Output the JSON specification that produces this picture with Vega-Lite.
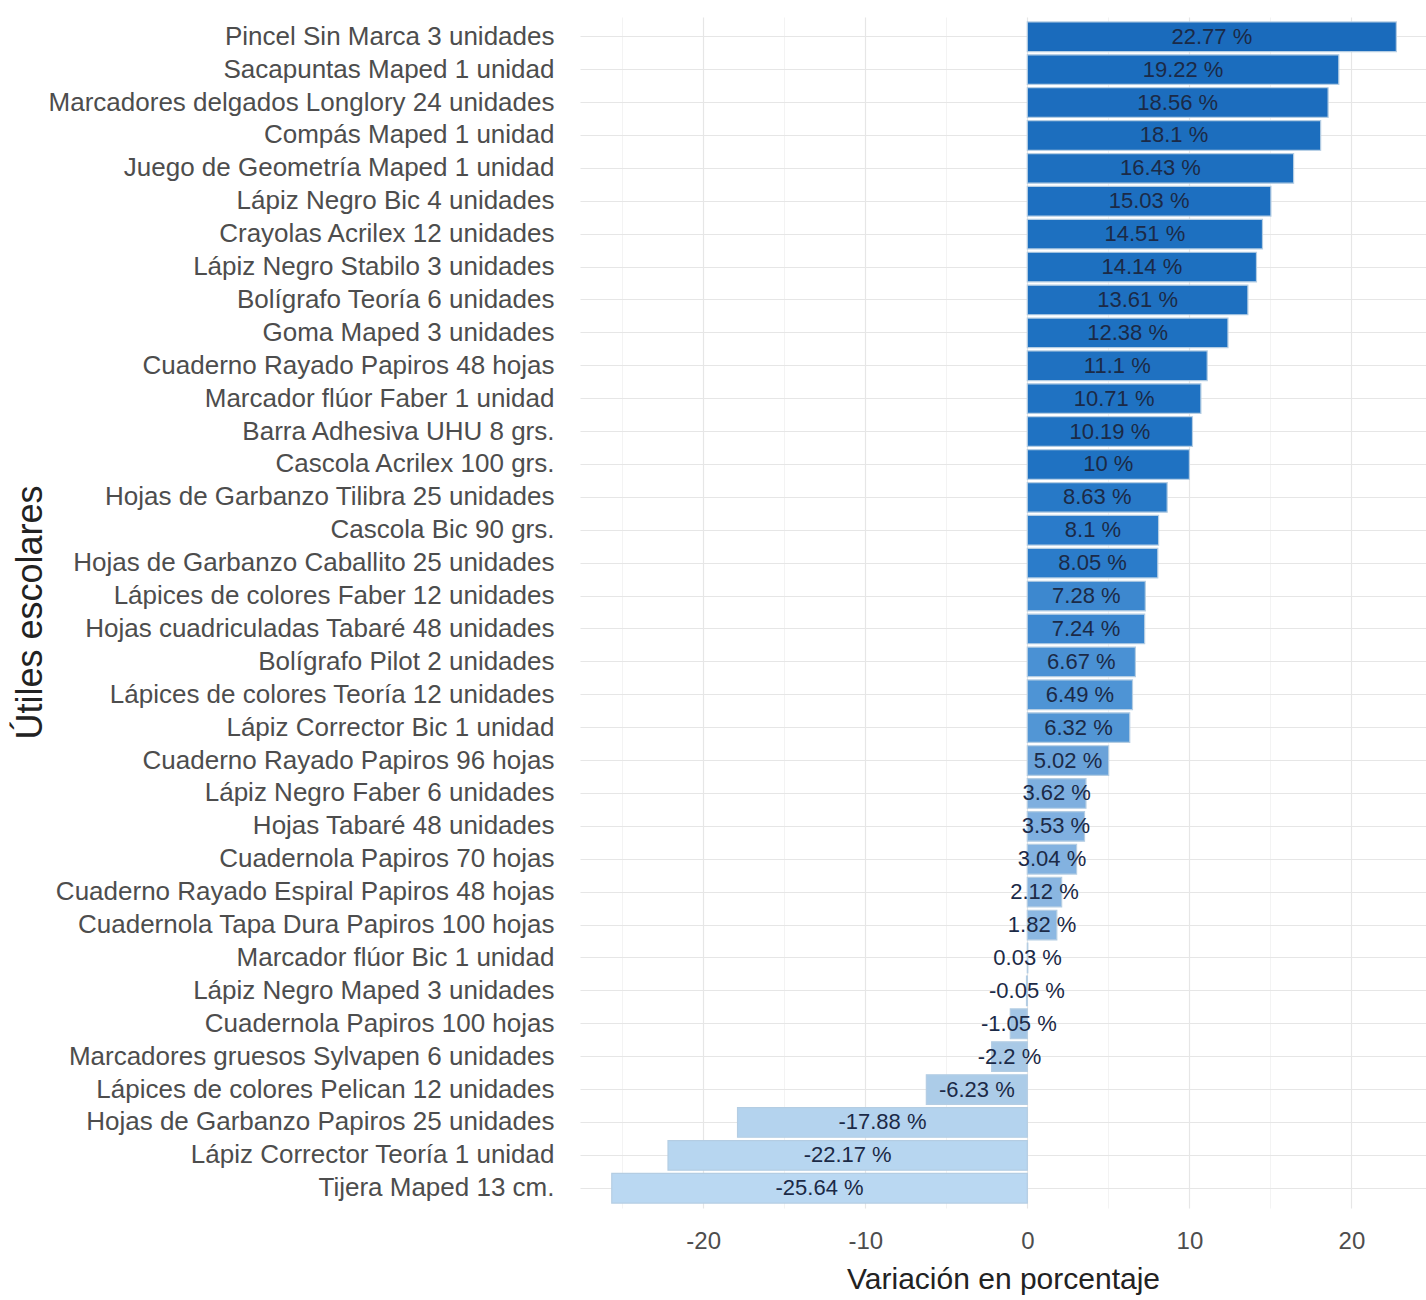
{
  "$schema": "https://vega.github.io/schema/vega-lite/v6.json",
  "autosize": {"type": "none"},
  "width": 846,
  "height": 1191,
  "padding": {"left": 580, "top": 17, "right": 0, "bottom": 92},
  "background": "white",
  "config": {"view": {"stroke": null}, "font": "Liberation Sans"},
  "data": {
    "values": [
      {"item": "Pincel Sin Marca 3 unidades", "v": 22.77},
      {"item": "Sacapuntas Maped 1 unidad", "v": 19.22},
      {"item": "Marcadores delgados Longlory 24 unidades", "v": 18.56},
      {"item": "Compás  Maped 1 unidad", "v": 18.1},
      {"item": "Juego de Geometría Maped 1 unidad", "v": 16.43},
      {"item": "Lápiz Negro Bic 4 unidades", "v": 15.03},
      {"item": "Crayolas Acrilex 12 unidades", "v": 14.51},
      {"item": "Lápiz Negro Stabilo 3 unidades", "v": 14.14},
      {"item": "Bolígrafo Teoría 6 unidades", "v": 13.61},
      {"item": "Goma Maped 3 unidades", "v": 12.38},
      {"item": "Cuaderno Rayado Papiros 48 hojas", "v": 11.1},
      {"item": "Marcador flúor Faber 1 unidad", "v": 10.71},
      {"item": "Barra Adhesiva UHU 8 grs.", "v": 10.19},
      {"item": "Cascola Acrilex 100 grs.", "v": 10},
      {"item": "Hojas de Garbanzo Tilibra 25 unidades", "v": 8.63},
      {"item": "Cascola Bic 90 grs.", "v": 8.1},
      {"item": "Hojas de Garbanzo Caballito 25 unidades", "v": 8.05},
      {"item": "Lápices de colores Faber 12 unidades", "v": 7.28},
      {"item": "Hojas cuadriculadas Tabaré 48 unidades", "v": 7.24},
      {"item": "Bolígrafo Pilot 2 unidades", "v": 6.67},
      {"item": "Lápices de colores Teoría 12 unidades", "v": 6.49},
      {"item": "Lápiz Corrector Bic 1 unidad", "v": 6.32},
      {"item": "Cuaderno Rayado Papiros 96 hojas", "v": 5.02},
      {"item": "Lápiz Negro Faber 6 unidades", "v": 3.62},
      {"item": "Hojas  Tabaré 48 unidades", "v": 3.53},
      {"item": "Cuadernola  Papiros 70 hojas", "v": 3.04},
      {"item": "Cuaderno Rayado Espiral Papiros 48 hojas", "v": 2.12},
      {"item": "Cuadernola Tapa Dura Papiros 100 hojas", "v": 1.82},
      {"item": "Marcador flúor Bic 1 unidad", "v": 0.03},
      {"item": "Lápiz Negro Maped 3 unidades", "v": -0.05},
      {"item": "Cuadernola  Papiros 100 hojas", "v": -1.05},
      {"item": "Marcadores gruesos Sylvapen 6 unidades", "v": -2.2},
      {"item": "Lápices de colores Pelican 12 unidades", "v": -6.23},
      {"item": "Hojas de Garbanzo Papiros 25 unidades", "v": -17.88},
      {"item": "Lápiz Corrector Teoría 1 unidad", "v": -22.17},
      {"item": "Tijera Maped 13 cm.", "v": -25.64}
    ]
  },
  "transform": [
    {"calculate": "datum.v + ' %'", "as": "lab"},
    {"calculate": "datum.v / 2", "as": "mid"}
  ],
  "encoding": {
    "y": {
      "field": "item",
      "type": "nominal",
      "sort": null,
      "scale": {"paddingInner": 0.1, "paddingOuter": 0.15},
      "axis": {
        "ticks": false,
        "domain": false,
        "labelPadding": 26,
        "labelFontSize": 26,
        "labelColor": "#4d4d4d",
        "labelLimit": 0,
        "grid": true,
        "gridColor": "#e6e6e6",
        "gridWidth": 1.2,
        "bandPosition": 0.5,
        "title": "Útiles escolares",
        "titleFont": "Liberation Sans",
        "titleFontSize": 36,
        "titleFontWeight": "normal",
        "titleColor": "#222222",
        "titleX": -550,
        "titleY": 595,
        "titleAngle": -90,
        "titleAlign": "center",
        "titleBaseline": "middle"
      }
    }
  },
  "layer": [
    {
      "mark": {"type": "bar", "stroke": "#b4cde3", "strokeWidth": 1.2},
      "encoding": {
        "x": {
          "field": "v",
          "type": "quantitative",
          "scale": {"domain": [-27.6, 24.6], "nice": false, "zero": false},
          "axis": {
            "values": [-25, -20, -15, -10, -5, 0, 5, 10, 15, 20],
            "labelExpr": "datum.value % 10 === 0 ? '' + datum.value : ''",
            "ticks": false,
            "domain": false,
            "labelPadding": 21,
            "labelFontSize": 24,
            "labelColor": "#4d4d4d",
            "grid": true,
            "gridColor": {"condition": {"test": "datum.value % 10 !== 0", "value": "#f0f0f0"}, "value": "#e6e6e6"},
            "gridWidth": {"condition": {"test": "datum.value % 10 !== 0", "value": 0.8}, "value": 1.2},
            "title": "Variación en porcentaje",
            "titleFontSize": 30,
            "titleFontWeight": "normal",
            "titleColor": "#222222",
            "titlePadding": 11
          }
        },
        "x2": {"datum": 0},
        "color": {
          "field": "v",
          "type": "quantitative",
          "legend": null,
          "scale": {
            "type": "linear",
            "domain": [-26, -2, 3.5, 5, 6.5, 8, 10, 23],
            "range": ["#bad8f2", "#a9c9e6", "#80b0e0", "#6aa2d9", "#4e94d5", "#2b7cca", "#1f72c2", "#1a6bbc"]
          }
        }
      }
    },
    {
      "mark": {"type": "text", "align": "center", "baseline": "middle", "fontSize": 22, "color": "#1b2a47"},
      "encoding": {
        "x": {"field": "mid", "type": "quantitative"},
        "text": {"field": "lab", "type": "nominal"}
      }
    }
  ]
}
